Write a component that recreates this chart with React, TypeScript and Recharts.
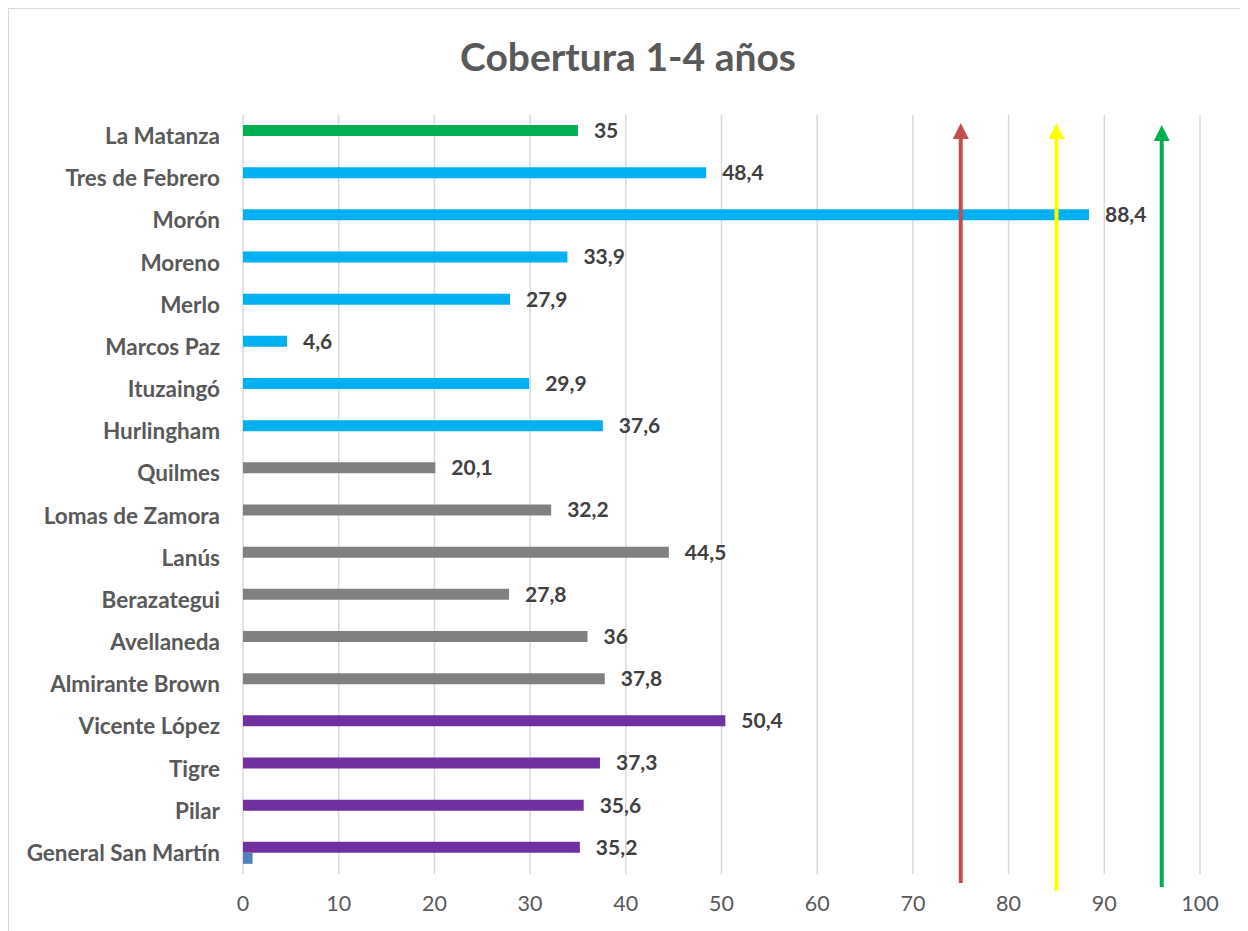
import React from 'react';
import { BarChart, Bar, XAxis, YAxis, CartesianGrid, LabelList, Cell, ReferenceLine } from 'recharts';

const categories = [
  'La Matanza', 'Tres de Febrero', 'Morón', 'Moreno', 'Merlo', 'Marcos Paz', 'Ituzaingó', 'Hurlingham',
  'Quilmes', 'Lomas de Zamora', 'Lanús', 'Berazategui', 'Avellaneda', 'Almirante Brown',
  'Vicente López', 'Tigre', 'Pilar', 'General San Martín',
];
const coverage = [35, 48.4, 88.4, 33.9, 27.9, 4.6, 29.9, 37.6, 20.1, 32.2, 44.5, 27.8, 36, 37.8, 50.4, 37.3, 35.6, 35.2];
const groups = ['A', 'B', 'B', 'B', 'B', 'B', 'B', 'B', 'C', 'C', 'C', 'C', 'C', 'C', 'D', 'D', 'D', 'D'];
const secondSeries = [null, null, null, null, null, null, null, null, null, null, null, null, null, null, null, null, null, 1];
const xTicks = [0, 10, 20, 30, 40, 50, 60, 70, 80, 90, 100];
const targets = [
  { value: 75, color: '#c0504d', ext: 9, tip: 8 },
  { value: 85, color: '#ffff00', ext: 17, tip: 8 },
  { value: 96, color: '#00b050', ext: 13, tip: 10 },
];

const groupColors: Record<string, string> = {
  A: '#00b050',
  B: '#00b0f0',
  C: '#808080',
  D: '#7030a0',
};

const data = categories.map((name, i) => ({
  name,
  value: coverage[i],
  extra: secondSeries[i],
  group: groups[i],
}));

const FONT = 'Lato, "Open Sans", sans-serif';

const makeArrow = (color: string, ext: number, tip: number) => (props: any) => {
  const x = props.x1;
  const top = Math.min(props.y1, props.y2) + tip;
  const bottom = Math.max(props.y1, props.y2) + ext;
  return (
    <g>
      <line x1={x} y1={bottom} x2={x} y2={top + 14} stroke={color} strokeWidth={4} />
      <polygon points={`${x},${top} ${x - 8},${top + 16} ${x + 8},${top + 16}`} fill={color} />
    </g>
  );
};

export default function App() {
  return (
    <div
      style={{
        position: 'relative',
        width: 1240,
        height: 942,
        boxSizing: 'border-box',
        border: '1px solid #d9d9d9',
        background: '#fff',
        fontFamily: FONT,
      }}
    >
      <div
        style={{
          position: 'absolute',
          left: 0,
          right: 0,
          top: 24,
          textAlign: 'center',
          fontSize: 39,
          fontWeight: 700,
          color: '#595959',
          fontFamily: FONT,
        }}
      >
        Cobertura 1-4 años
      </div>
      <BarChart
        width={1238}
        height={940}
        data={data}
        layout="vertical"
        margin={{ top: 106, right: 47, bottom: 45, left: 0 }}
        barSize={11}
        barGap={0}
      >
        <CartesianGrid horizontal={false} vertical stroke="#d9d9d9" strokeWidth={1.5} />
        <XAxis
          type="number"
          domain={[0, 100]}
          ticks={xTicks}
          axisLine={false}
          tickLine={false}
          height={30}
          tickMargin={16}
          tick={{ fill: '#595959', fontSize: 21.5, fontFamily: FONT }}
        />
        <YAxis
          type="category"
          dataKey="name"
          width={234}
          axisLine={false}
          tickLine={false}
          tickMargin={17}
          interval={0}
          tick={{ fill: '#595959', fontSize: 22.5, fontWeight: 700, fontFamily: FONT }}
        />
        <Bar dataKey="value" isAnimationActive={false}>
          {data.map((d, i) => (
            <Cell key={i} fill={groupColors[d.group]} />
          ))}
          <LabelList
            dataKey="value"
            position="right"
            offset={16}
            formatter={(v: any) => String(v).replace('.', ',')}
            style={{ fill: '#404040', fontSize: 21, fontWeight: 700, fontFamily: FONT }}
          />
        </Bar>
        <Bar dataKey="extra" fill="#4f81bd" isAnimationActive={false} />
        {targets.map((t) => (
          <ReferenceLine
            key={t.value}
            x={t.value}
            ifOverflow="visible"
            shape={makeArrow(t.color, t.ext, t.tip)}
          />
        ))}
      </BarChart>
    </div>
  );
}
